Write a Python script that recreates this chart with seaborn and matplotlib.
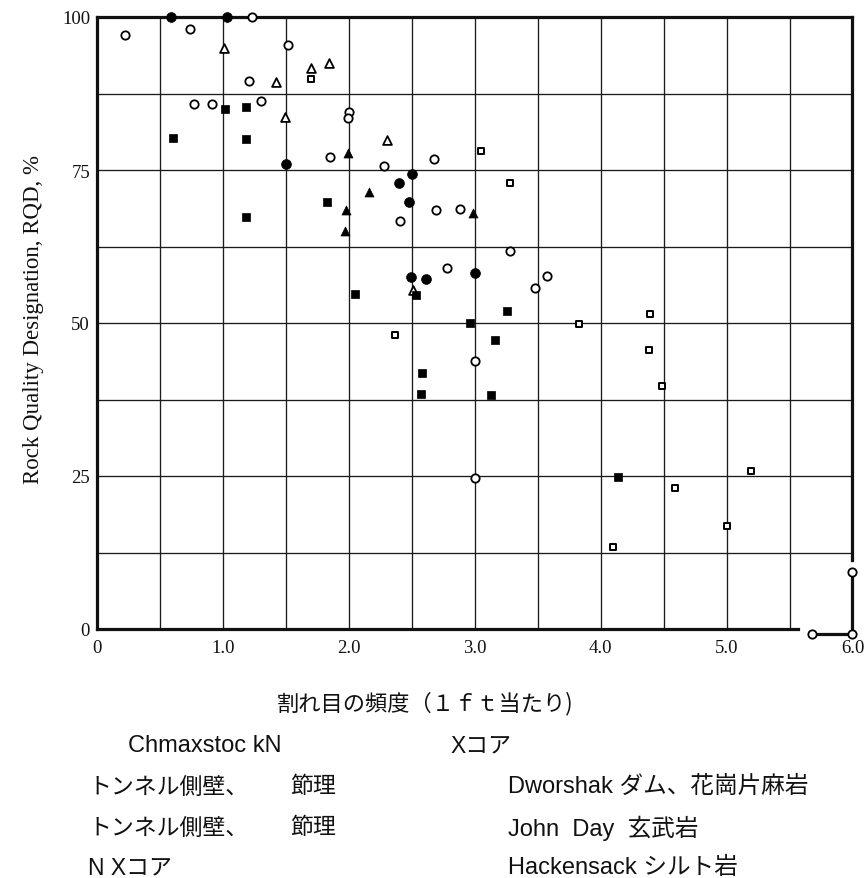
import numpy as np
import matplotlib
matplotlib.use("Agg")
import matplotlib.pyplot as plt
import seaborn as sns

# ---------------- data ----------------
open_circle_x = [0.22, 0.74, 1.23, 1.52, 1.21, 0.77, 0.91, 1.30, 2.00, 1.99, 1.85, 2.28,
                 2.68, 2.41, 2.69, 2.88, 2.78, 3.28, 3.57, 3.48, 3.00, 3.00, 5.68, 6.00, 6.00]
open_circle_y = [97.0, 98.1, 100.0, 95.5, 89.6, 85.8, 85.8, 86.3, 84.5, 83.5, 77.2, 75.7,
                 76.8, 66.7, 68.5, 68.6, 59.0, 61.8, 57.7, 55.8, 43.8, 24.6, -0.8, -0.8, 9.3]

filled_circle_x = [0.585, 1.03, 1.50, 2.50, 2.40, 2.48, 2.49, 2.61, 3.00]
filled_circle_y = [100.0, 100.0, 75.9, 74.3, 72.9, 69.7, 57.5, 57.2, 58.2]

open_triangle_x = [1.01, 1.42, 1.70, 1.84, 1.49, 2.30, 2.51]
open_triangle_y = [95.0, 89.3, 91.6, 92.5, 83.6, 79.9, 55.4]

filled_triangle_x = [1.99, 2.16, 1.98, 1.97, 2.99]
filled_triangle_y = [77.7, 71.4, 68.5, 65.0, 67.9]

filled_square_x = [1.02, 1.185, 0.60, 1.18, 1.83, 1.18, 2.05, 2.53, 2.96, 3.26, 3.16, 2.58,
                   2.575, 3.13, 4.14]
filled_square_y = [84.9, 85.3, 80.2, 80.1, 69.7, 67.3, 54.7, 54.5, 50.0, 51.9, 47.3, 41.9,
                   38.4, 38.3, 24.9]

open_square_x = [1.70, 3.05, 3.28, 2.37, 3.83, 4.39, 4.38, 4.49, 5.19, 4.59, 5.00, 4.10]
open_square_y = [89.8, 78.1, 72.9, 48.0, 49.8, 51.5, 45.6, 39.7, 25.8, 23.1, 16.8, 13.4]

x_ticks = [0, 1, 2, 3, 4, 5, 6]
x_tick_labels = ["0", "1.0", "2.0", "3.0", "4.0", "5.0", "6.0"]
y_ticks = [0, 25, 50, 75, 100]
y_tick_labels = ["0", "25", "50", "75", "100"]
x_grid = [0.5, 1.0, 1.5, 2.0, 2.5, 3.0, 3.5, 4.0, 4.5, 5.0, 5.5]
y_grid = [12.5, 25, 37.5, 50, 62.5, 75, 87.5]

x_label = "割れ目の頻度（１ｆｔ当たり)"
y_label = "Rock Quality Designation, RQD, %"

legend_rows = [
    ("Chmaxstoc kN", "Xコア", None),
    ("トンネル側壁、", "節理", "Dworshak ダム、花崗片麻岩"),
    ("トンネル側壁、", "節理", "John  Day  玄武岩"),
    ("N Xコア", None, "Hackensack シルト岩"),
]

# ---------------- style ----------------
sns.set_style("white")
plt.rcParams['font.family'] = ['Liberation Sans', 'Noto Sans CJK JP']

W, H = 867, 879
fig = plt.figure(figsize=(W / 100, H / 100), dpi=100)
ax = fig.add_axes([97 / W, 1 - 630 / H, 755.5 / W, 612 / H])

ax.set_xlim(0, 6)
ax.set_ylim(0, 100)

# grid (interior lines only)
ax.xaxis.remove_overlapping_locs = False
ax.yaxis.remove_overlapping_locs = False
ax.set_xticks(x_ticks)
ax.set_xticklabels(x_tick_labels)
ax.set_yticks(y_ticks)
ax.set_yticklabels(y_tick_labels)
ax.set_xticks(x_grid, minor=True)
ax.set_yticks(y_grid, minor=True)
ax.grid(False, which='major')
ax.grid(True, which='minor', color='#1c1c1c', linewidth=0.95)
ax.tick_params(which='both', length=0)
ax.tick_params(axis='x', which='major', pad=7)
ax.tick_params(axis='y', which='major', pad=5)
for lab in ax.get_xticklabels() + ax.get_yticklabels():
    lab.set_fontfamily('Liberation Serif')
    lab.set_fontsize(13.5)
    lab.set_color('#111111')

for side in ['left', 'right', 'top', 'bottom']:
    ax.spines[side].set_visible(True)
    ax.spines[side].set_color('#111111')
    ax.spines[side].set_linewidth(2.3)
ax.spines['bottom'].set_bounds(0, 5.57)
ax.spines['right'].set_bounds(11.3, 100)

# connecting frame pieces at lower-right corner (between boundary points)
ax.plot(open_circle_x[-3:], open_circle_y[-3:], color='#111111', lw=2.3,
        clip_on=False, zorder=4, solid_capstyle='butt')

# ---------------- markers ----------------
common = dict(ax=ax, clip_on=False, zorder=5, legend=False)
sns.scatterplot(x=open_triangle_x, y=open_triangle_y, marker='^', s=40,
                facecolor='white', edgecolor='black', linewidth=1.3, **common)
sns.scatterplot(x=filled_triangle_x, y=filled_triangle_y, marker='^', s=42,
                facecolor='black', edgecolor='black', linewidth=0.5, **common)
sns.scatterplot(x=open_circle_x, y=open_circle_y, marker='o', s=36,
                facecolor='white', edgecolor='black', linewidth=1.3, **common)
sns.scatterplot(x=filled_circle_x, y=filled_circle_y, marker='o', s=50,
                facecolor='black', edgecolor='black', linewidth=0.5, **common)
sns.scatterplot(x=filled_square_x, y=filled_square_y, marker='s', s=32,
                facecolor='black', edgecolor='black', linewidth=0.5, **common)
sns.scatterplot(x=open_square_x, y=open_square_y, marker='s', s=18,
                facecolor='white', edgecolor='black', linewidth=1.4, **common)

# ---------------- labels ----------------
ax.set_xlabel(x_label, fontsize=16, family=['Noto Sans CJK JP'], color='#111111')
ax.xaxis.set_label_coords((425 - 97) / 755.5, (630 - 704) / 612)
ax.xaxis.label.set_va('center')

ax.set_ylabel(y_label, fontsize=16.5, family=['Liberation Serif'], color='#111111')
ax.yaxis.set_label_coords((34 - 97) / 755.5, (630 - 320) / 612)
ax.yaxis.label.set_va('center')


def ftext(px, py, s, size):
    fig.text(px / W, 1 - py / H, s, fontsize=size, ha='left', va='center',
             color='#111111', family=['Liberation Sans', 'Noto Sans CJK JP'])


row_y = [746, 787, 828, 868]
for (a, b, c), yy in zip(legend_rows, row_y):
    if a is not None:
        if a.startswith("Ch"):
            ftext(128, yy, a, 17)
        elif a.startswith("N"):
            ftext(88, yy, a, 16.5)
        else:
            ftext(88, yy, a, 16.5)
    if b is not None:
        if b.startswith("X"):
            ftext(450, yy, b, 16.5)
        else:
            ftext(290, yy, b, 16.5)
    if c is not None:
        ftext(508, yy, c, 17)

fig.savefig("out.png", dpi=100)
